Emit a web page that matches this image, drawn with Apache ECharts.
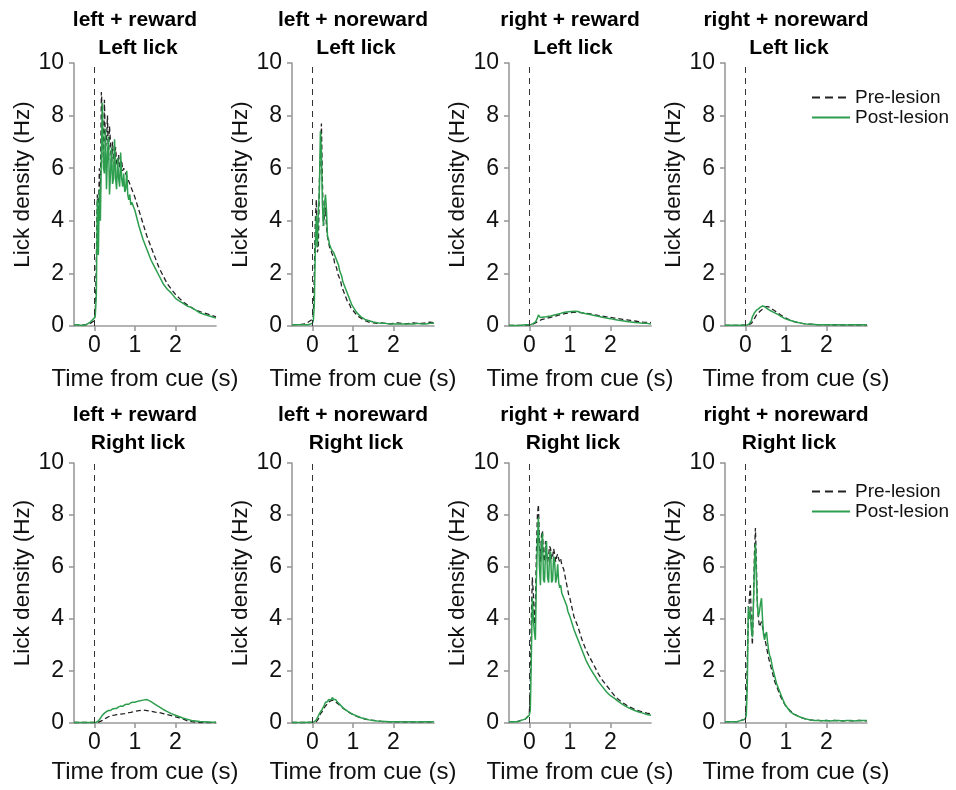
<!DOCTYPE html>
<html>
<head>
<meta charset="utf-8">
<script src="https://cdn.jsdelivr.net/npm/echarts@6/dist/echarts.min.js"></script>
<style>
html,body{margin:0;padding:0;background:#fff;}
#main{width:956px;height:790px;}
</style>
</head>
<body>
<div id="main"></div>
<script>
// ---- shared time axis (s) ----
const T = [
  -0.5,-0.4,-0.3,-0.2,-0.1,0.0,
  0.025,0.05,0.075,0.1,0.125,0.15,0.175,0.2,0.225,0.25,
  0.275,0.3,0.325,0.35,0.375,0.4,0.425,0.45,0.475,0.5,
  0.525,0.55,0.575,0.6,0.625,0.65,0.675,0.7,0.725,0.75,
  0.775,0.8,0.825,0.85,0.875,0.9,0.925,0.95,0.975,1.0,
  1.1,1.2,1.3,1.4,1.5,1.6,1.7,1.8,1.9,2.0,2.1,2.2,2.3,2.4,2.5,2.6,2.7,2.8,2.9,3.0
];

const conditions = ['left + reward','left + noreward','right + reward','right + noreward'];
const licks = ['Left lick','Right lick'];
const seriesNames = ['Pre-lesion','Post-lesion'];
const xTicks = [0,1,2];
const cueTime = 0;

// ---- Left lick ----
const preLeftRewardL = [
  0.05,0.05,0.03,0.05,0.1,0.2,
  0.5,2.5,5.0,4.0,6.0,5.0,8.9,8.0,6.2,8.6,
  6.8,7.0,8.0,6.3,7.6,7.0,6.0,7.0,6.4,6.0,
  6.8,6.2,6.1,6.5,6.0,6.1,6.3,5.9,6.0,5.9,
  5.8,5.8,5.6,5.5,5.4,5.3,5.2,5.1,5.0,4.9,
  4.4,3.9,3.4,3.0,2.6,2.2,1.9,1.6,1.4,1.2,1.05,0.9,0.8,0.7,0.6,0.55,0.5,0.45,0.4,0.35
];
const postLeftRewardL = [
  0.05,0.05,0.02,0.05,0.15,0.3,
  0.4,1.2,4.8,2.7,5.2,4.0,6.5,8.5,6.0,5.8,
  7.5,5.2,6.5,7.2,5.0,5.8,6.8,5.4,5.6,7.1,
  5.6,5.2,6.4,5.6,5.3,6.6,5.6,5.3,5.8,5.1,
  5.2,5.9,5.0,4.8,5.0,4.6,4.7,4.6,4.5,4.4,
  3.8,3.3,2.9,2.5,2.2,1.9,1.6,1.4,1.25,1.05,0.95,0.85,0.75,0.7,0.6,0.5,0.45,0.4,0.35,0.3
];
const preLeftNorewardL = [
  0.05,0.05,0.05,0.08,0.15,0.25,
  0.4,2.0,4.0,4.8,2.8,3.0,5.5,6.5,7.7,5.5,
  3.8,4.2,4.5,3.8,3.4,3.2,3.0,2.9,2.8,2.7,
  2.6,2.4,2.3,2.2,2.0,1.9,1.8,1.7,1.5,1.4,
  1.3,1.2,1.1,1.0,0.9,0.85,0.8,0.7,0.65,0.6,
  0.4,0.3,0.2,0.15,0.12,0.1,0.12,0.1,0.08,0.1,0.12,0.1,0.08,0.1,0.12,0.1,0.1,0.12,0.15,0.12
];
const postLeftNorewardL = [
  0.05,0.05,0.05,0.05,0.05,0.1,
  0.2,0.8,3.0,4.2,3.0,4.4,5.2,7.4,6.6,4.6,
  3.8,4.6,5.0,4.4,3.4,3.3,3.1,3.1,2.9,2.9,
  2.8,2.7,2.6,2.5,2.4,2.3,2.1,2.0,1.9,1.7,
  1.6,1.5,1.4,1.3,1.2,1.1,1.0,0.9,0.8,0.75,
  0.5,0.35,0.25,0.2,0.15,0.12,0.1,0.1,0.08,0.08,0.08,0.08,0.08,0.08,0.08,0.1,0.08,0.08,0.1,0.1
];
const preRightRewardL = [
  0.02,0.02,0.02,0.02,0.03,0.03,
  0.04,0.05,0.06,0.08,0.1,0.12,0.14,0.16,0.18,0.2,
  0.22,0.24,0.25,0.26,0.27,0.28,0.29,0.3,0.31,0.32,
  0.33,0.34,0.35,0.36,0.37,0.38,0.39,0.4,0.41,0.42,
  0.43,0.44,0.45,0.46,0.47,0.48,0.48,0.49,0.5,0.5,
  0.52,0.52,0.5,0.48,0.46,0.43,0.4,0.38,0.35,0.33,0.3,0.28,0.25,0.23,0.21,0.19,0.17,0.15,0.14,0.13
];
const postRightRewardL = [
  0.02,0.02,0.02,0.03,0.05,0.05,
  0.05,0.06,0.08,0.1,0.12,0.15,0.2,0.3,0.42,0.38,
  0.32,0.35,0.33,0.36,0.34,0.36,0.35,0.38,0.37,0.4,
  0.38,0.42,0.4,0.43,0.42,0.45,0.44,0.47,0.46,0.5,
  0.48,0.52,0.5,0.54,0.52,0.55,0.53,0.56,0.54,0.57,
  0.56,0.55,0.5,0.47,0.44,0.4,0.37,0.33,0.3,0.28,0.25,0.22,0.2,0.17,0.15,0.13,0.12,0.1,0.1,0.08
];
const preRightNorewardL = [
  0.02,0.02,0.02,0.02,0.03,0.03,
  0.03,0.04,0.05,0.06,0.08,0.1,0.15,0.2,0.28,0.35,
  0.42,0.45,0.5,0.54,0.58,0.6,0.64,0.66,0.7,0.72,
  0.74,0.75,0.73,0.7,0.68,0.66,0.63,0.6,0.58,0.55,
  0.52,0.5,0.47,0.45,0.42,0.4,0.37,0.35,0.32,0.3,
  0.22,0.17,0.12,0.1,0.08,0.07,0.06,0.05,0.05,0.05,0.04,0.05,0.04,0.04,0.05,0.04,0.04,0.04,0.04,0.04
];
const postRightNorewardL = [
  0.03,0.03,0.03,0.03,0.03,0.03,
  0.03,0.04,0.05,0.08,0.1,0.2,0.35,0.4,0.5,0.55,
  0.6,0.58,0.65,0.68,0.72,0.7,0.76,0.72,0.74,0.7,
  0.68,0.66,0.62,0.6,0.58,0.56,0.54,0.52,0.5,0.48,
  0.46,0.44,0.42,0.4,0.37,0.35,0.33,0.3,0.28,0.26,
  0.22,0.17,0.13,0.1,0.08,0.07,0.06,0.05,0.05,0.05,0.05,0.04,0.05,0.05,0.04,0.05,0.05,0.04,0.05,0.05
];

// ---- Right lick ----
const preLeftRewardR = [
  0.02,0.02,0.02,0.02,0.02,0.02,
  0.02,0.02,0.03,0.03,0.05,0.06,0.08,0.1,0.13,0.15,
  0.18,0.2,0.22,0.24,0.26,0.27,0.28,0.29,0.3,0.3,
  0.31,0.32,0.33,0.33,0.34,0.34,0.35,0.35,0.36,0.36,
  0.37,0.38,0.39,0.4,0.4,0.41,0.42,0.43,0.44,0.45,
  0.48,0.5,0.48,0.45,0.42,0.4,0.36,0.32,0.28,0.24,0.2,0.15,0.08,0.05,0.03,0.02,0.02,0.02,0.02,0.02
];
const postLeftRewardR = [
  0.02,0.02,0.02,0.02,0.02,0.02,
  0.02,0.03,0.05,0.08,0.12,0.18,0.25,0.3,0.35,0.38,
  0.42,0.44,0.46,0.48,0.5,0.48,0.52,0.54,0.52,0.56,
  0.58,0.56,0.6,0.62,0.6,0.65,0.66,0.64,0.68,0.7,
  0.68,0.72,0.74,0.72,0.76,0.78,0.76,0.8,0.82,0.8,
  0.85,0.88,0.9,0.82,0.72,0.62,0.52,0.44,0.36,0.3,0.24,0.18,0.14,0.1,0.08,0.06,0.05,0.04,0.03,0.03
];
const preLeftNorewardR = [
  0.02,0.02,0.02,0.02,0.02,0.03,
  0.03,0.04,0.05,0.05,0.1,0.15,0.25,0.35,0.4,0.45,
  0.52,0.6,0.65,0.7,0.75,0.8,0.82,0.85,0.87,0.88,
  0.86,0.85,0.82,0.78,0.75,0.72,0.68,0.65,0.62,0.58,
  0.55,0.52,0.5,0.48,0.45,0.42,0.4,0.37,0.35,0.33,
  0.25,0.2,0.15,0.12,0.1,0.08,0.06,0.05,0.05,0.04,0.05,0.04,0.04,0.05,0.04,0.04,0.05,0.04,0.04,0.04
];
const postLeftNorewardR = [
  0.02,0.02,0.02,0.02,0.03,0.03,
  0.03,0.05,0.08,0.12,0.2,0.28,0.36,0.42,0.48,0.55,
  0.62,0.7,0.8,0.86,0.82,0.9,0.95,0.88,0.92,0.98,
  0.9,0.86,0.9,0.84,0.8,0.78,0.72,0.68,0.64,0.6,
  0.56,0.53,0.5,0.48,0.45,0.42,0.4,0.37,0.35,0.33,
  0.27,0.2,0.16,0.12,0.1,0.08,0.07,0.06,0.05,0.05,0.05,0.05,0.04,0.05,0.05,0.04,0.05,0.05,0.04,0.05
];
const preRightRewardR = [
  0.05,0.05,0.05,0.1,0.15,0.3,
  1.5,4.0,5.6,5.0,3.8,4.5,6.5,8.0,8.4,7.0,
  6.2,7.2,7.4,6.4,6.2,7.0,7.0,6.2,6.4,6.8,
  6.7,6.3,6.4,6.7,6.5,6.2,6.4,6.5,6.3,6.2,
  6.3,6.1,6.0,5.9,5.7,5.5,5.3,5.1,4.9,4.8,
  4.1,3.7,3.2,2.8,2.5,2.2,1.9,1.65,1.45,1.25,1.05,0.9,0.78,0.68,0.6,0.52,0.47,0.42,0.38,0.35
];
const postRightRewardR = [
  0.05,0.05,0.05,0.1,0.15,0.3,
  0.5,2.5,4.8,4.0,3.5,3.2,5.5,7.0,7.9,6.0,
  5.3,6.8,7.3,5.5,5.4,6.6,7.0,5.6,5.4,6.5,
  6.6,5.4,5.5,6.4,6.2,5.4,5.6,6.1,5.4,5.2,
  5.3,5.0,4.9,4.8,4.7,4.6,4.5,4.3,4.2,4.1,
  3.6,3.2,2.8,2.4,2.1,1.85,1.6,1.4,1.2,1.05,0.95,0.82,0.72,0.62,0.55,0.48,0.42,0.38,0.33,0.3
];
const preRightNorewardR = [
  0.05,0.05,0.05,0.05,0.1,0.15,
  0.5,2.5,4.0,4.8,5.3,3.8,3.0,4.5,6.5,7.5,
  6.0,4.5,4.0,3.7,3.8,3.9,3.7,3.5,3.3,3.1,
  2.9,2.7,2.5,2.35,2.2,2.05,1.9,1.75,1.6,1.5,
  1.4,1.3,1.2,1.1,1.0,0.92,0.85,0.78,0.72,0.65,
  0.48,0.35,0.27,0.2,0.15,0.12,0.1,0.1,0.08,0.1,0.08,0.1,0.08,0.08,0.1,0.08,0.08,0.1,0.08,0.08
];
const postRightNorewardR = [
  0.05,0.05,0.05,0.05,0.1,0.15,
  0.3,1.5,4.5,4.0,4.3,3.6,3.3,4.5,6.0,6.9,
  5.5,4.5,4.1,4.3,4.6,4.8,4.0,3.4,3.2,3.4,
  3.5,3.1,2.8,2.6,2.5,2.3,2.1,1.95,1.8,1.65,
  1.5,1.4,1.3,1.2,1.1,1.0,0.9,0.82,0.72,0.65,
  0.45,0.33,0.26,0.2,0.15,0.12,0.1,0.1,0.09,0.1,0.08,0.1,0.1,0.08,0.1,0.1,0.08,0.1,0.1,0.1
];

const panelData = [
  [preLeftRewardL, postLeftRewardL], [preLeftNorewardL, postLeftNorewardL],
  [preRightRewardL, postRightRewardL], [preRightNorewardL, postRightNorewardL],
  [preLeftRewardR, postLeftRewardR], [preLeftNorewardR, postLeftNorewardR],
  [preRightRewardR, postRightRewardR], [preRightNorewardR, postRightNorewardR]
];

// ---- layout ----
const FONT = '"Liberation Sans", Arial, Helvetica, sans-serif';
const colLeft = [74, 292, 509, 725];
const gridW = 142;
const rowTop = [63, 463];
const rowH = [263, 260];
const titleTop = [[9, 37], [404, 432]];
const xNameGap = [41, 37];
const AXIS_COLOR = '#9a9a9a';
const GREEN = '#2c9e4e';
const DARK = '#222222';

const grids = [], xAxes = [], yAxes = [], series = [], titles = [];
for (let p = 0; p < 8; p++) {
  const r = Math.floor(p / 4), c = p % 4;
  grids.push({left: colLeft[c], top: rowTop[r], width: gridW, height: rowH[r], containLabel: false, outerBoundsMode: 'none'});
  xAxes.push({
    type: 'value', gridIndex: p, min: -0.5, max: 3,
    name: 'Time from cue (s)', nameLocation: 'middle', nameGap: xNameGap[r],
    nameTextStyle: {fontFamily: FONT, fontSize: 24, color: '#111'},
    axisLine: {show: true, onZero: false, lineStyle: {color: AXIS_COLOR, width: 1.6}},
    axisTick: {show: true, length: 5, customValues: xTicks, lineStyle: {color: AXIS_COLOR, width: 1.6}},
    axisLabel: {customValues: xTicks, fontFamily: FONT, fontSize: 23, color: '#111', margin: 8},
    splitLine: {show: false}
  });
  yAxes.push({
    type: 'value', gridIndex: p, min: 0, max: 10, interval: 2,
    name: 'Lick density (Hz)', nameLocation: 'middle', nameGap: 40,
    nameTextStyle: {fontFamily: FONT, fontSize: 22.5, color: '#111', padding: [0, 0, 0, 20]},
    axisLine: {show: true, onZero: false, lineStyle: {color: AXIS_COLOR, width: 1.6}},
    axisTick: {show: true, length: 5, lineStyle: {color: AXIS_COLOR, width: 1.6}},
    axisLabel: {fontFamily: FONT, fontSize: 23, color: '#111', margin: 10},
    splitLine: {show: false}
  });
  const [pre, post] = panelData[p];
  series.push({
    name: seriesNames[0], type: 'line', xAxisIndex: p, yAxisIndex: p,
    data: T.map((t, k) => [t, pre[k]]),
    symbol: 'none', showSymbol: false, z: 2,
    lineStyle: {color: DARK, width: 1.3, type: [5, 3]},
    itemStyle: {color: DARK},
    markLine: {
      silent: true, symbol: ['none', 'none'], label: {show: false}, animation: false,
      lineStyle: {color: '#333333', width: 1, type: [6, 5]},
      data: [{xAxis: cueTime}]
    }
  });
  series.push({
    name: seriesNames[1], type: 'line', xAxisIndex: p, yAxisIndex: p,
    data: T.map((t, k) => [t, post[k]]),
    symbol: 'none', showSymbol: false, z: 3,
    lineStyle: {color: GREEN, width: 1.5},
    itemStyle: {color: GREEN}
  });
  const cx = colLeft[c] + gridW / 2;
  titles.push({
    text: conditions[c], left: cx - 10, top: titleTop[r][0], textAlign: 'center', padding: 0,
    textStyle: {fontFamily: FONT, fontSize: 21, fontWeight: 'bold', color: '#000', lineHeight: 22}
  });
  titles.push({
    text: licks[r], left: cx - 7, top: titleTop[r][1], textAlign: 'center', padding: 0,
    textStyle: {fontFamily: FONT, fontSize: 21, fontWeight: 'bold', color: '#000', lineHeight: 22}
  });
}

const legendBase = {
  orient: 'vertical', left: 806, itemWidth: 38, itemHeight: 14, itemGap: 1,
  data: [{name: seriesNames[0], lineStyle: {type: [8, 5]}}, {name: seriesNames[1]}],
  selectedMode: false,
  itemStyle: {opacity: 0},
  textStyle: {fontFamily: FONT, fontSize: 19, color: '#111'}
};

const chart = echarts.init(document.getElementById('main'), null, {renderer: 'canvas'});
chart.setOption({
  backgroundColor: '#ffffff',
  animation: false,
  title: titles,
  legend: [Object.assign({top: 83}, legendBase), Object.assign({top: 477}, legendBase)],
  grid: grids,
  xAxis: xAxes,
  yAxis: yAxes,
  series: series
});
</script>
</body>
</html>
